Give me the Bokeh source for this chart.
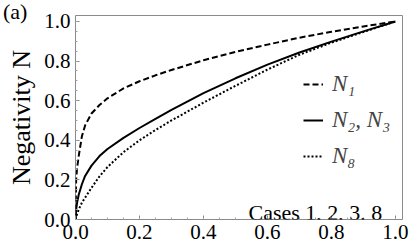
from bokeh.plotting import figure
from bokeh.layouts import column
from bokeh.models import (Range1d, SingleIntervalTicker, NumeralTickFormatter,
                          Label, Legend, LegendItem, ColumnDataSource, Div)
from bokeh.embed import file_html
from bokeh.resources import INLINE

# ---- data ----
x_vals = [0, 0.002, 0.005, 0.01, 0.02, 0.03, 0.05, 0.075, 0.1, 0.15, 0.2, 0.25, 0.3,
          0.4, 0.5, 0.6, 0.7, 0.8, 0.9, 1.0]
n1_vals = [0, 0.20, 0.26, 0.32, 0.42, 0.475, 0.535, 0.578, 0.612, 0.662, 0.698, 0.728, 0.755,
           0.804, 0.846, 0.883, 0.918, 0.948, 0.975, 1.0]
n23_vals = [0, 0.05, 0.085, 0.125, 0.178, 0.22, 0.272, 0.32, 0.356, 0.412, 0.462, 0.508, 0.553,
            0.638, 0.713, 0.782, 0.843, 0.898, 0.95, 1.0]
n8_vals = [0, 0.012, 0.028, 0.05, 0.085, 0.11, 0.16, 0.218, 0.265, 0.34, 0.40, 0.452, 0.50,
           0.59, 0.675, 0.757, 0.832, 0.893, 0.947, 1.0]
legend_labels = ["N\u2081", "N\u2082, N\u2083", "N\u2088"]
y_axis_title = "Negativity N"
panel_label = "(a)"
cases_text = "Cases 1, 2, 3, 8"

FONT = "Liberation Serif"

p = figure(width=409, height=245, output_backend="svg", toolbar_location=None,
           x_range=Range1d(0, 1.022), y_range=Range1d(0, 1.03),
           min_border_left=75, min_border_right=7, min_border_top=15, min_border_bottom=26)
p.background_fill_color = "white"
p.border_fill_color = "white"
p.outline_line_color = "#8a8a8a"
p.outline_line_width = 1
p.grid.visible = False

def style_axis(ax):
    ax.ticker = SingleIntervalTicker(interval=0.2, num_minor_ticks=4)
    ax.axis_line_color = None
    ax.major_tick_in = 4
    ax.major_tick_out = 0
    ax.minor_tick_in = 2
    ax.minor_tick_out = 0
    ax.major_tick_line_color = "#8a8a8a"
    ax.minor_tick_line_color = "#a0a0a0"
    ax.formatter = NumeralTickFormatter(format="0.0")
    ax.major_label_text_font = FONT
    ax.major_label_text_font_size = "21px"
    ax.major_label_text_color = "black"
    ax.major_label_standoff = 5

style_axis(p.xaxis[0])
style_axis(p.yaxis[0])
p.yaxis[0].axis_label = y_axis_title
p.yaxis[0].axis_label_text_font = FONT
p.yaxis[0].axis_label_text_font_size = "26px"
p.yaxis[0].axis_label_text_font_style = "normal"
p.yaxis[0].axis_label_text_color = "black"
p.yaxis[0].axis_label_standoff = 5

src = ColumnDataSource(dict(x=x_vals, n1=n1_vals, n23=n23_vals, n8=n8_vals))
r1 = p.line("x", "n1", source=src, line_color="black", line_width=2, line_dash="6 3")
r2 = p.line("x", "n23", source=src, line_color="black", line_width=2)
r3 = p.line("x", "n8", source=src, line_color="black", line_width=2, line_dash="2 2")

legend = Legend(items=[LegendItem(label=legend_labels[0], renderers=[r1]),
                       LegendItem(label=legend_labels[1], renderers=[r2]),
                       LegendItem(label=legend_labels[2], renderers=[r3])],
                location=(228, 50), orientation="vertical")
legend.label_text_font = FONT
legend.label_text_font_style = "italic"
legend.label_text_font_size = "23px"
legend.glyph_width = 20
legend.glyph_height = 22
legend.label_height = 22
legend.label_standoff = 9
legend.spacing = 10
legend.padding = 0
legend.margin = 0
legend.border_line_alpha = 0
legend.background_fill_alpha = 0
p.add_layout(legend, "center")

p.add_layout(Label(x=0.959, y=0.035, text=cases_text, text_font=FONT,
                   text_font_size="22px", text_baseline="alphabetic", text_align="right",
                   text_color="black"))

tag = Div(text='<span style="font-family: \'Liberation Serif\'; font-size: 22px; '
               'line-height: 24px; color: black; white-space: nowrap;">' + panel_label + '</span>',
          width=34, height=26, margin=(0, 0, -26, 3),
          styles={"z-index": "10", "position": "relative", "overflow": "visible"})

layout = column(tag, p, spacing=0)
open("out.html", "w").write(file_html(layout, INLINE))
